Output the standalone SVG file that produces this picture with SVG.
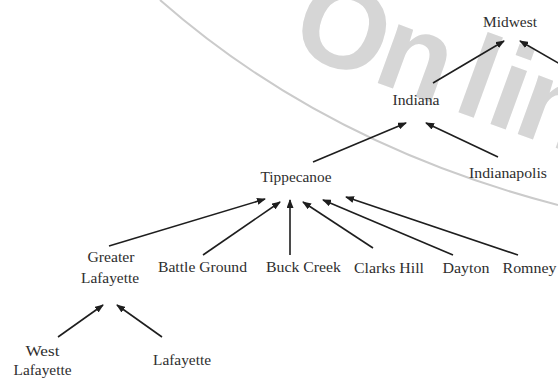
<svg xmlns="http://www.w3.org/2000/svg" width="558" height="378" viewBox="0 0 558 378">
<style>
.lbl{font-family:"Liberation Serif","Times New Roman",serif;font-size:15px;fill:#2e2e2e;text-anchor:middle}
.edge{stroke:#1e1e1e;stroke-width:1.6;fill:none;marker-end:url(#ah)}
.wm{font-family:"Liberation Sans",Arial,sans-serif;font-size:118px;font-weight:bold;fill:#d6d6d6}
</style>
<defs>
<marker id="ah" markerUnits="userSpaceOnUse" markerWidth="9" markerHeight="7" refX="8" refY="3.5" orient="auto">
<path d="M0,0 L9,3.5 L0,7 z" fill="#1e1e1e"/>
</marker>
</defs>
<rect width="558" height="378" fill="#ffffff"/>
<g id="watermark">
<path d="M160,0 Q325,145 558,205" stroke="#cbcbcb" stroke-width="2" fill="none"/>
<text class="wm" transform="translate(276,46) rotate(20)" x="12 100 186 220 249 322" y="0">Online</text>
</g>
<g id="connectors">
<line class="edge" x1="109" y1="246" x2="265" y2="199"/>
<line class="edge" x1="203" y1="255" x2="280" y2="202"/>
<line class="edge" x1="290" y1="255" x2="290" y2="200"/>
<line class="edge" x1="373" y1="248" x2="303" y2="202"/>
<line class="edge" x1="453" y1="255" x2="323" y2="200"/>
<line class="edge" x1="518" y1="255" x2="346" y2="197"/>
<line class="edge" x1="313" y1="162" x2="406" y2="123"/>
<line class="edge" x1="498" y1="157" x2="426" y2="123"/>
<line class="edge" x1="433" y1="83" x2="504" y2="41"/>
<line class="edge" x1="572" y1="71" x2="520" y2="41"/>
<line class="edge" x1="58" y1="337" x2="103" y2="305"/>
<line class="edge" x1="162" y1="337" x2="117" y2="305"/>
</g>
<g id="midwest"><text class="lbl" x="510" y="27" textLength="54" lengthAdjust="spacingAndGlyphs">Midwest</text></g>
<g id="indiana"><text class="lbl" x="416" y="105" textLength="47" lengthAdjust="spacingAndGlyphs">Indiana</text></g>
<g id="indianapolis"><text class="lbl" x="508" y="178" textLength="78" lengthAdjust="spacingAndGlyphs">Indianapolis</text></g>
<g id="tippecanoe"><text class="lbl" x="296" y="182" textLength="71" lengthAdjust="spacingAndGlyphs">Tippecanoe</text></g>
<g id="greater-lafayette"><text class="lbl" x="111" y="262" textLength="47" lengthAdjust="spacingAndGlyphs">Greater</text><text class="lbl" x="110" y="283" textLength="58" lengthAdjust="spacingAndGlyphs">Lafayette</text></g>
<g id="battle-ground"><text class="lbl" x="202.5" y="272" textLength="89" lengthAdjust="spacingAndGlyphs">Battle Ground</text></g>
<g id="buck-creek"><text class="lbl" x="303.5" y="272" textLength="75" lengthAdjust="spacingAndGlyphs">Buck Creek</text></g>
<g id="clarks-hill"><text class="lbl" x="389" y="273" textLength="70" lengthAdjust="spacingAndGlyphs">Clarks Hill</text></g>
<g id="dayton"><text class="lbl" x="466" y="273" textLength="47" lengthAdjust="spacingAndGlyphs">Dayton</text></g>
<g id="romney"><text class="lbl" x="529.5" y="273" textLength="54" lengthAdjust="spacingAndGlyphs">Romney</text></g>
<g id="west-lafayette"><text class="lbl" x="42.5" y="356" textLength="34" lengthAdjust="spacingAndGlyphs">West</text><text class="lbl" x="42.5" y="375" textLength="58" lengthAdjust="spacingAndGlyphs">Lafayette</text></g>
<g id="lafayette"><text class="lbl" x="182" y="365" textLength="58" lengthAdjust="spacingAndGlyphs">Lafayette</text></g>
</svg>
